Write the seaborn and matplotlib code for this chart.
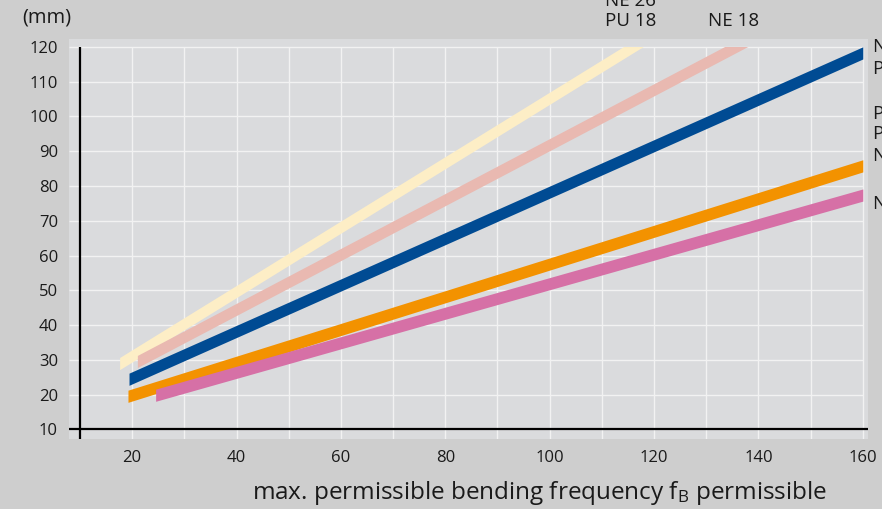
import numpy as np
import matplotlib
matplotlib.use("Agg")
import matplotlib.pyplot as plt
from matplotlib.patches import Rectangle
import seaborn as sns

# bend radius bands (mm): start / end points of each band centre
band_names = ["cream", "rose", "blue", "orange", "magenta"]
band_colors = ["#fdeec6", "#e9b9b1", "#004b93", "#f39200", "#d670a6"]
x_start = [17.6, 21.0, 19.4, 19.2, 24.5]
y_start = [28.9, 29.5, 24.4, 19.5, 19.8]
x_end = [120, 140, 160, 160, 160]
y_end = [123.8, 123.5, 118.3, 85.8, 77.4]
band_half = 1.75

x_ticks = [20, 40, 60, 80, 100, 120, 140, 160]
x_grid = list(range(20, 161, 10))
y_ticks = list(range(10, 121, 10))

top_labels = ["NE 26", "PU 18", "NE 18"]
right_labels = ["NE 12", "PU 12", "PU 10", "PU 8", "NE 10", "NE 8"]
right_label_y = [120, 113.6, 100.7, 94.9, 88.6, 74.8]

sns.set_theme(style="white")
plt.rcParams["font.family"] = ["Open Sans", "DejaVu Sans"]
plt.rcParams["mathtext.fontset"] = "custom"
plt.rcParams["mathtext.rm"] = "Open Sans"
plt.rcParams["mathtext.it"] = "Open Sans"

txt = "#1a1a1a"
fig = plt.figure(figsize=(8.82, 5.09), dpi=100, facecolor="#cecece")
W, H = 882, 509
ax = fig.add_axes([69 / W, 70 / H, 799 / W, 400 / H])
ax.set_facecolor("#dadbdd")
xlim = (7.9, 161.0)
ylim = (7.2, 122.3)
ax.set_xlim(*xlim)
ax.set_ylim(*ylim)
for s in ax.spines.values():
    s.set_visible(False)

# grid
ax.hlines(y_ticks[1:], xlim[0], 160, color="#f2f2f2", lw=1.0, zorder=1)
ax.vlines(x_grid, ylim[0], 120, color="#f2f2f2", lw=1.0, zorder=1)

# axis lines
ax.vlines(10, ylim[0], 120, color="black", lw=1.6, zorder=4)
ax.hlines(10, xlim[0], xlim[1], color="black", lw=1.6, zorder=4)

clip = Rectangle((10, 10), 150, 110, transform=ax.transData)
for name, c, xs, ys, xe, ye in zip(band_names, band_colors, x_start, y_start, x_end, y_end):
    xx = np.array([xs, xe])
    yy = np.array([ys, ye])
    poly = ax.fill_between(xx, yy - band_half, yy + band_half, color=c, lw=0, zorder=3, label=name)
    poly.set_clip_path(clip)

ax.set_xticks(x_ticks)
ax.set_yticks(y_ticks)
ax.tick_params(axis="both", length=0, labelsize=12, colors=txt)
ax.tick_params(axis="x", pad=8)
ax.tick_params(axis="y", pad=8)

fig.text(252 / W, 1 - 493 / H, r"max. permissible bending frequency f$_\mathrm{B}$ permissible",
         ha="left", va="center", fontsize=17.5, color=txt)
fig.text(22 / W, 1 - 18 / H, "(mm)", ha="left", va="center", fontsize=14.5, color=txt)

fig.text(605 / W, 1 - 1 / H, top_labels[0], ha="left", va="center", fontsize=13.5, color=txt)
fig.text(605 / W, 1 - 21 / H, top_labels[1], ha="left", va="center", fontsize=13.5, color=txt)
fig.text(708 / W, 1 - 21 / H, top_labels[2], ha="left", va="center", fontsize=13.5, color=txt)
for lab, yv in zip(right_labels, right_label_y):
    ax.text(1.006, yv, lab, transform=ax.get_yaxis_transform(),
            ha="left", va="center", fontsize=13.5, color=txt, clip_on=False)

fig.savefig("out.png", dpi=100, facecolor=fig.get_facecolor())
